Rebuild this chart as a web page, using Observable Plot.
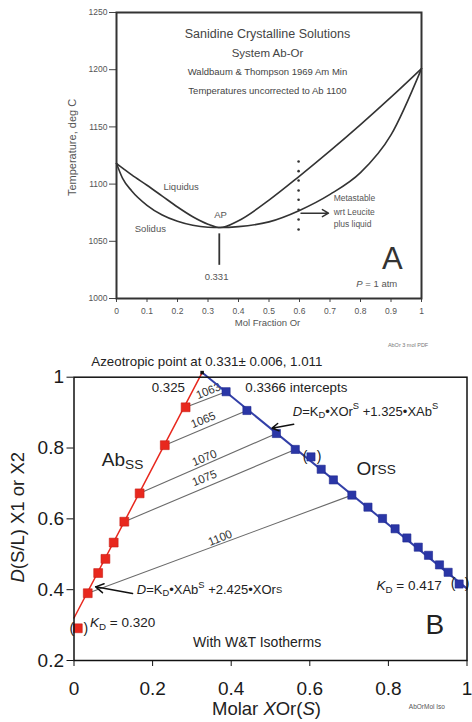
<!DOCTYPE html>
<html><head><meta charset="utf-8">
<script src="https://cdn.jsdelivr.net/npm/d3@7"></script>
<script src="https://cdn.jsdelivr.net/npm/@observablehq/plot@0.6"></script>
<style>
body{margin:0;background:#fff;}
#wrap{position:relative;width:472px;height:722px;overflow:hidden;background:#fff;}
#a,#b{position:absolute;left:0;}
#a{top:0;} #b{top:330px;}
</style></head><body><div id="wrap"><div id="a"></div><div id="b"></div></div>
<script>
// ---------- Panel A data ----------
const xA = [0,0.02,0.05,0.1,0.15,0.2,0.25,0.3,0.34,0.4,0.5,0.6,0.7,0.8,0.9,1];
const liquidusT = [1118,1114,1108,1099,1089.5,1080,1071.5,1065,1062,1068,1086,1107,1129,1152,1176,1201];
const solidusT  = [1118,1105,1094,1081.5,1073,1067.5,1064,1062.3,1062,1062.8,1067,1077,1091,1110,1143,1201];
const xTicksA = [0,0.1,0.2,0.3,0.4,0.5,0.6,0.7,0.8,0.9,1];
const yTicksA = [1000,1050,1100,1150,1200,1250];
const apX = 0.337;
const dotsX = 0.597;
const dotsT = [1119.8,1111.3,1103.2,1094.4,1086.3,1077.6,1069.1,1060.3];
const titleA = ["Sanidine Crystalline Solutions","System Ab-Or","Waldbaum & Thompson 1969 Am Min","Temperatures uncorrected to Ab 1100"];
const titleAY = [1230.8,1214,1198.4,1181];
const titleAS = [12.5,11.5,9.5,9.5];
const metaLines = ["Metastable","wrt Leucite","plus liquid"];
const metaY = [1087.2,1075.5,1064.7];

// ---------- Panel B data ----------
const redX = [0.0097,0.035,0.0615,0.080,0.101,0.128,0.167,0.231,0.284];
const redY = [0.291,0.390,0.447,0.487,0.533,0.592,0.672,0.808,0.915];
const blueX = [0.387,0.440,0.515,0.563,0.603,0.629,0.660,0.707,0.748,0.785,0.817,0.847,0.876,0.902,0.930,0.952,0.980];
const blueY = [0.959,0.906,0.841,0.796,0.775,0.740,0.710,0.667,0.633,0.601,0.572,0.546,0.520,0.497,0.470,0.449,0.416];
const apexB = {x:0.326, y:1.013};
const redLineX = [0, 0.326], redLineY = [0.32, 1.013];
const blueLineX = [0.326, 1.0], blueLineY = [1.013, 0.403];
const tieLabels = ["1063","1065","1070","1075","1100"];
const tieRed = [8,7,6,5,1];    // index into red points
const tieBlue = [0,1,2,3,7];   // index into blue points
const tieLabX = [0.342,0.329,0.332,0.332,0.372];
const tieLabY = [0.961,0.879,0.772,0.715,0.546];
const xTicksB = [0,0.2,0.4,0.6,0.8,1];
const yTicksB = [0.2,0.4,0.6,0.8,1];

// rich text helper (positions go through the plot's scales)
function rich(fig, items){
  const sx = fig.scale("x"), sy = fig.scale("y");
  const g = d3.select(fig).append("g");
  for (const it of items){
    const px = sx.apply(it.x), py = sy.apply(it.y);
    const t = g.append("text").attr("x",px).attr("y",py)
      .attr("text-anchor", it.anchor||"start").attr("dominant-baseline","central")
      .attr("font-size", it.size).attr("fill", it.fill||"#222");
    if (it.rotate) t.attr("transform",`rotate(${it.rotate},${px},${py})`);
    let shift = 0;
    for (const s of it.segs){
      const ts = t.append("tspan").text(s.t);
      let target = 0;
      if (s.i) ts.attr("font-style","italic");
      if (s.sub){ ts.attr("font-size", it.size*0.72); target = it.size*0.3; }
      if (s.sup){ ts.attr("font-size", it.size*0.72); target = -it.size*0.35; }
      if (s.small){ ts.attr("font-size", it.size*0.72); target = it.size*0.05; }
      if (target !== shift){ ts.attr("dy", target - shift); shift = target; }
    }
  }
}

// ---------- Panel A ----------
const curveA = xA.map((x,i)=>({x, liq:liquidusT[i], sol:solidusT[i]}));
const figA = Plot.plot({
  width:472, height:330, marginLeft:116, marginRight:51, marginTop:12, marginBottom:32,
  x:{domain:[0,1]}, y:{domain:[1000,1250]},
  style:{fontFamily:"Liberation Sans, Arial, sans-serif", fontSize:"8.5px", color:"#555", background:"transparent"},
  marks:[
    Plot.axisY({ticks:yTicksA, tickSize:7, tickPadding:2, tickFormat:d=>String(d), label:null, stroke:"#444"}),
    Plot.axisX({ticks:xTicksA, tickSize:4, tickPadding:5, tickFormat:d=>String(d), label:null, stroke:"#444"}),
    Plot.line(curveA, {x:"x", y:"liq", curve:"monotone-x", stroke:"#333", strokeWidth:1.6}),
    Plot.line(curveA, {x:"x", y:"sol", curve:"monotone-x", stroke:"#333", strokeWidth:1.6}),
    Plot.ruleX([apX], {y1:1029, y2:1056.5, stroke:"#333", strokeWidth:1.8}),
    Plot.dot(dotsT, {x:()=>dotsX, y:d=>d, r:1.3, fill:"#333", stroke:null}),
    Plot.arrow([{x1:0.605,x2:0.695,y:1074.6}], {x1:"x1", x2:"x2", y1:"y", y2:"y", stroke:"#333", strokeWidth:1.5, headLength:7}),
    Plot.text(titleA, {x:()=>0.495, y:(d,i)=>titleAY[i], text:d=>d, fontSize:(d,i)=>titleAS[i], fill:"#444"}),
    Plot.text(metaLines, {x:()=>0.712, y:(d,i)=>metaY[i], text:d=>d, textAnchor:"start", fontSize:8.5, fill:"#555"}),
    Plot.text(["Liquidus","Solidus","AP","0.331"], {x:[0.212,0.111,0.341,0.328], y:[1097.3,1061,1072.6,1018.6], text:d=>d, fontSize:9.5, fill:"#555"}),
    Plot.text(["A"], {x:[0.904], y:[1034.7], text:d=>d, fontSize:31, fill:"#333"}),
    Plot.text(["Temperature, deg C"], {x:[-0.144], y:[1132], text:d=>d, rotate:-90, fontSize:11, fill:"#555"}),
    Plot.text(["Mol Fraction Or"], {x:[0.495], y:[978.2], text:d=>d, fontSize:9.5, fill:"#555"}),
    Plot.frame({stroke:"#333", strokeWidth:2})
  ]
});
rich(figA, [{x:0.855, y:1013.4, anchor:"middle", size:9.5, fill:"#555", segs:[{t:"P",i:1},{t:" = 1 atm"}]}]);
document.getElementById("a").appendChild(figA);

// ---------- Panel B ----------
const red = redX.map((x,i)=>({x, y:redY[i]}));
const blue = blueX.map((x,i)=>({x, y:blueY[i]}));
const ties = tieLabels.map((t,i)=>({t, x1:redX[tieRed[i]], y1:redY[tieRed[i]], x2:blueX[tieBlue[i]], y2:blueY[tieBlue[i]], lx:tieLabX[i], ly:tieLabY[i]}));
const parens = [red[0], blue[4], blue[16]];
const figB = Plot.plot({
  width:472, height:392, marginLeft:73.5, marginRight:5.5, marginTop:46.7, marginBottom:62,
  x:{domain:[0,1]}, y:{domain:[0.2,1]},
  style:{fontFamily:"Liberation Sans, Arial, sans-serif", fontSize:"19px", color:"#1a1a1a", background:"transparent"},
  marks:[
    Plot.axisY({ticks:yTicksB, tickSize:7, tickPadding:3, tickFormat:d=>String(d), label:null, stroke:"#111"}),
    Plot.axisX({ticks:xTicksB, tickSize:6, tickPadding:15, tickFormat:d=>String(d), label:null, stroke:"#111"}),
    Plot.link(ties, {x1:"x1", y1:"y1", x2:"x2", y2:"y2", stroke:"#6a6a6a", strokeWidth:1.1}),
    Plot.text(ties, {x:"lx", y:"ly", text:"t", rotate:-22, fontSize:11.5, fill:"#333"}),
    Plot.line(redLineX.map((x,i)=>({x,y:redLineY[i]})), {x:"x", y:"y", stroke:"#e8281e", strokeWidth:1.5}),
    Plot.line(blueLineX.map((x,i)=>({x,y:blueLineY[i]})), {x:"x", y:"y", stroke:"#3340a8", strokeWidth:2}),
    Plot.dot(red, {x:"x", y:"y", symbol:"square", r:5, fill:"#e8281e", stroke:"#c81c14", strokeWidth:0.6}),
    Plot.dot(blue, {x:"x", y:"y", symbol:"square", r:4.6, fill:"#2a36a6", stroke:"#1e2890", strokeWidth:0.6}),
    Plot.dot([apexB], {x:"x", y:"y", symbol:"square", r:2, fill:"#111"}),
    Plot.text(parens, {x:"x", y:"y", text:()=>"(", dx:-6, fontSize:14, fill:"#222"}),
    Plot.text(parens, {x:"x", y:"y", text:()=>")", dx:8, fontSize:14, fill:"#222"}),
    Plot.arrow([{x1:0.559,y1:0.867,x2:0.504,y2:0.856},{x1:0.149,y1:0.389,x2:0.055,y2:0.408}], {x1:"x1", y1:"y1", x2:"x2", y2:"y2", stroke:"#111", strokeWidth:1.5, headLength:9}),
    Plot.text(["Azeotropic point at 0.331± 0.006, 1.011"], {x:[0.338], y:[1.045], text:d=>d, fontSize:13.3, fill:"#222"}),
    Plot.text(["0.325"], {x:[0.240], y:[0.969], text:d=>d, fontSize:13.3, fill:"#222"}),
    Plot.text(["0.3366 intercepts"], {x:[0.436], y:[0.969], text:d=>d, textAnchor:"start", fontSize:13.3, fill:"#222"}),
    Plot.text(["With W&T Isotherms"], {x:[0.466], y:[0.251], text:d=>d, fontSize:14, fill:"#222"}),
    Plot.text(["B"], {x:[0.918], y:[0.299], text:d=>d, fontSize:28, fill:"#222"}),
    Plot.text(["AbOrMol Iso"], {x:[0.898], y:[0.068], text:d=>d, fontSize:6.5, fill:"#555"}),
    Plot.text(["AbOr 3 mol PDF"], {x:[0.85], y:[1.09], text:d=>d, fontSize:5.5, fill:"#777"}),
    Plot.frame({stroke:"#111", strokeWidth:1.5})
  ]
});
rich(figB, [
  {x:0.558, y:0.904, size:13, segs:[{t:"D",i:1},{t:"=K",i:0},{t:"D",sub:1},{t:"•XOr"},{t:"S",sup:1},{t:" +1.325•XAb"},{t:"S",sup:1}]},
  {x:0.161, y:0.400, size:13, segs:[{t:"D",i:1},{t:"=K"},{t:"D",sub:1},{t:"•XAb"},{t:"S",sup:1},{t:" +2.425•XOr"},{t:"S",small:1}]},
  {x:0.042, y:0.307, size:13.5, segs:[{t:"K",i:1},{t:"D",sub:1},{t:" = 0.320"}]},
  {x:0.771, y:0.411, size:13.5, segs:[{t:"K",i:1},{t:"D",sub:1},{t:" = 0.417"}]},
  {x:0.072, y:0.769, size:19, segs:[{t:"Ab"},{t:"SS",sub:1}]},
  {x:0.720, y:0.741, size:19, segs:[{t:"Or"},{t:"SS",small:1}]},
  {x:0.491, y:0.065, anchor:"middle", size:18.5, segs:[{t:"Molar "},{t:"X",i:1},{t:"Or("},{t:"S",i:1},{t:")"}]},
  {x:-0.144, y:0.603, anchor:"middle", size:18.5, rotate:-90, segs:[{t:"D",i:1},{t:"(S/L) X1 or X2"}]}
]);
document.getElementById("b").appendChild(figB);
</script></body></html>
